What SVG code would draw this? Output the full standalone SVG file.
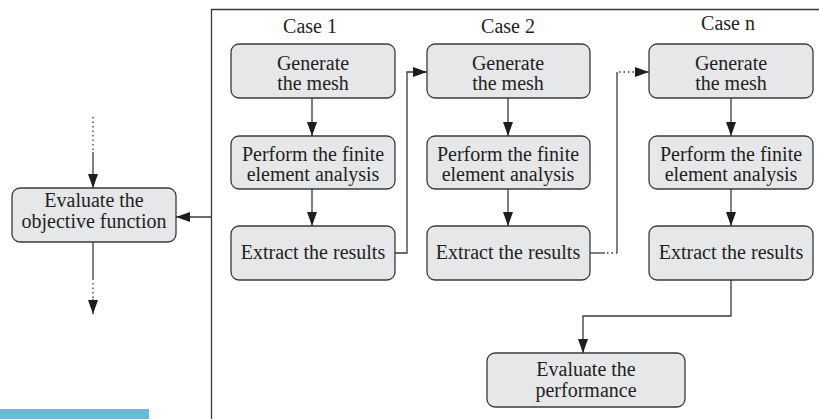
<svg xmlns="http://www.w3.org/2000/svg" width="819" height="419" viewBox="0 0 819 419">
<style>
text{font-family:'Liberation Serif','Times New Roman','DejaVu Serif',serif;font-size:20px;fill:#231f20;text-anchor:middle}
.box{fill:#e6e7e9;stroke:#3a3a3a;stroke-width:1.3}
.c{fill:none;stroke:#3a3a3a;stroke-width:1.3}
.d{fill:none;stroke:#3a3a3a;stroke-width:1.3;stroke-dasharray:1.5 3}
</style>
<defs>
<marker id="ah" viewBox="0 0 14 10" refX="14" refY="5" markerWidth="14" markerHeight="10" markerUnits="userSpaceOnUse" orient="auto">
<path d="M0,0 L14,5 L0,10 Z" fill="#1e1e1e"/>
</marker>
</defs>
<rect width="819" height="419" fill="#fff"/>
<rect x="0" y="409" width="149" height="10" fill="#6bb8d8"/>
<path class="c" d="M211.5,419 V9.5 H819"/>
<g font-family="Liberation Serif, serif">
<text x="310" y="33">Case 1</text>
<text x="508" y="33">Case 2</text>
<text x="728" y="30">Case n</text>
<g id="obj"><rect class="box" x="12" y="188" width="164" height="54" rx="8"/><text x="94" y="207">Evaluate the</text><text x="94" y="228">objective function</text></g>
<g id="mesh1"><rect class="box" x="231" y="44" width="164" height="54" rx="8"/><text x="313" y="69.5">Generate</text><text x="313" y="90">the mesh</text></g>
<g id="fea1"><rect class="box" x="231" y="136" width="164" height="53" rx="8"/><text x="313" y="161">Perform the finite</text><text x="313" y="181">element analysis</text></g>
<g id="res1"><rect class="box" x="231" y="226" width="164" height="54" rx="8"/><text x="313" y="259">Extract the results</text></g>
<g id="mesh2"><rect class="box" x="427" y="44" width="163" height="54" rx="8"/><text x="508" y="69.5">Generate</text><text x="508" y="90">the mesh</text></g>
<g id="fea2"><rect class="box" x="427" y="136" width="163" height="53" rx="8"/><text x="508" y="161">Perform the finite</text><text x="508" y="181">element analysis</text></g>
<g id="res2"><rect class="box" x="427" y="226" width="163" height="54" rx="8"/><text x="508" y="259">Extract the results</text></g>
<g id="meshn"><rect class="box" x="649" y="44" width="164" height="54" rx="8"/><text x="731" y="69.5">Generate</text><text x="731" y="90">the mesh</text></g>
<g id="fean"><rect class="box" x="649" y="136" width="164" height="53" rx="8"/><text x="731" y="161">Perform the finite</text><text x="731" y="181">element analysis</text></g>
<g id="resn"><rect class="box" x="649" y="226" width="164" height="54" rx="8"/><text x="731" y="259">Extract the results</text></g>
<g id="perf"><rect class="box" x="487" y="353" width="198" height="54" rx="8"/><text x="586" y="376">Evaluate the</text><text x="586" y="397">performance</text></g>
</g>
<g id="connectors">
<path class="c" d="M211,217 H176" marker-end="url(#ah)"/>
<path class="d" d="M93,117 V152"/>
<path class="c" d="M93,152 V188" marker-end="url(#ah)"/>
<path class="c" d="M93,242 V280"/>
<path class="d" d="M93,283 V298"/>
<path class="c" d="M93,299 V314" marker-end="url(#ah)"/>
<path class="c" d="M312,98 V136" marker-end="url(#ah)"/>
<path class="c" d="M312,189 V226" marker-end="url(#ah)"/>
<path class="c" d="M508,98 V136" marker-end="url(#ah)"/>
<path class="c" d="M508,189 V226" marker-end="url(#ah)"/>
<path class="c" d="M731,98 V136" marker-end="url(#ah)"/>
<path class="c" d="M731,189 V226" marker-end="url(#ah)"/>
<path class="c" d="M395,253 H407 V72 H427" marker-end="url(#ah)"/>
<path class="c" d="M590,253 H605"/>
<path class="d" d="M607,253 H617"/>
<path class="c" d="M617,253 V72"/>
<path class="d" d="M619,72 H636"/>
<path class="c" d="M635,72 H649" marker-end="url(#ah)"/>
<path class="c" d="M731,280 V316 H583 V353" marker-end="url(#ah)"/>
</g>
</svg>
